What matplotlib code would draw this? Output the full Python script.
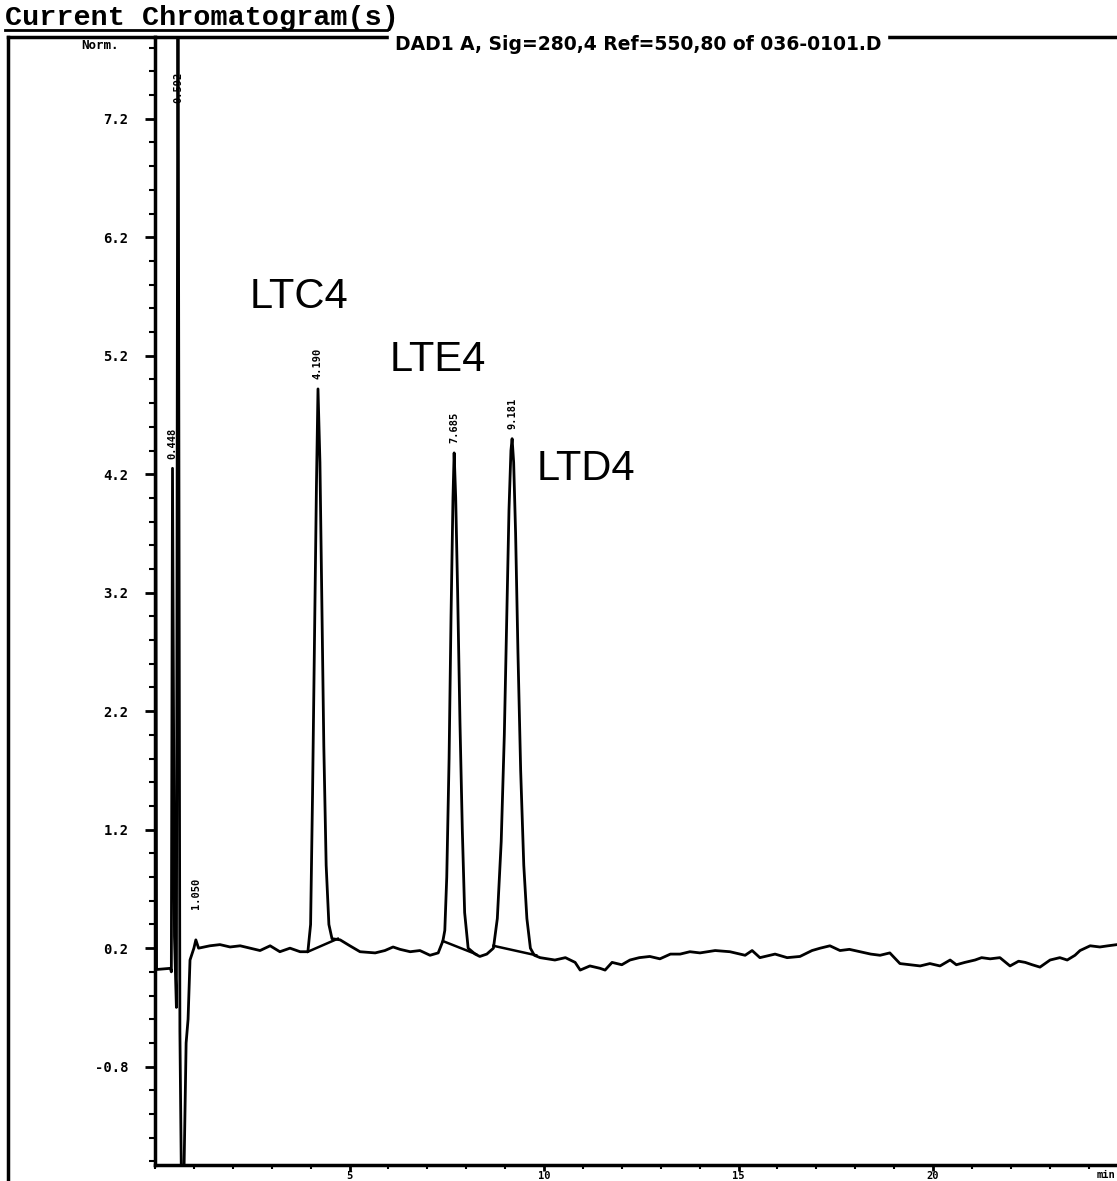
import matplotlib
matplotlib.use("Agg")
import matplotlib.pyplot as plt
from matplotlib.lines import Line2D
from matplotlib.ticker import FixedLocator, MultipleLocator

# trace: retention time (min) and signal (norm.)
trace_t = [0.00, 0.04, 0.40, 0.42, 0.45, 0.50, 0.55, 0.59, 0.64, 0.68, 0.74,
           0.80, 0.85, 0.90, 0.95, 1.00, 1.05, 1.12,
           1.41, 1.67, 1.93, 2.19, 2.44, 2.70, 2.96, 3.21, 3.47, 3.73, 3.93,
           4.00, 4.05, 4.10, 4.15, 4.19, 4.24, 4.29, 4.34, 4.40, 4.47, 4.55,
           4.76, 5.01, 5.27, 5.66, 5.91, 6.12, 6.30, 6.56, 6.81, 7.07, 7.28, 7.40,
           7.45, 7.50, 7.56, 7.61, 7.66, 7.69, 7.73, 7.78, 7.84, 7.90, 7.96, 8.05,
           8.23, 8.35, 8.53, 8.70, 8.80, 8.90, 8.98, 9.05, 9.10, 9.15, 9.18,
           9.22, 9.27, 9.33, 9.40, 9.48, 9.56, 9.65, 9.75,
           9.90, 10.28, 10.55, 10.80, 10.93, 11.18, 11.44, 11.57, 11.75, 12.00,
           12.21, 12.45, 12.72, 12.98, 13.25, 13.50, 13.75, 14.01, 14.40, 14.78,
           15.17, 15.35, 15.55, 15.94, 16.25, 16.58, 16.89, 17.10, 17.35, 17.61,
           17.85, 18.12, 18.40, 18.64, 18.89, 19.15, 19.40, 19.67, 19.92, 20.18,
           20.44, 20.60, 20.82, 21.08, 21.25, 21.47, 21.72, 21.98, 22.20, 22.37,
           22.55, 22.75, 23.01, 23.26, 23.45, 23.65, 23.78, 24.04, 24.29, 24.50,
           24.73]
trace_v = [8.50, 0.02, 0.03, 0.00, 4.25, 0.30, -0.30, 9.00, -0.50, -1.80, -1.80,
           -0.60, -0.40, 0.10, 0.15, 0.20, 0.27, 0.20,
           0.22, 0.23, 0.21, 0.22, 0.20, 0.18, 0.22, 0.17, 0.20, 0.17, 0.17,
           0.40, 1.50, 2.80, 4.10, 4.92, 4.30, 3.10, 1.90, 0.90, 0.40, 0.28,
           0.27, 0.22, 0.17, 0.16, 0.18, 0.21, 0.19, 0.17, 0.18, 0.14, 0.16, 0.26,
           0.35, 0.80, 1.80, 3.00, 4.00, 4.38, 4.00, 3.20, 2.10, 1.20, 0.50, 0.20,
           0.15, 0.13, 0.15, 0.20, 0.45, 1.10, 2.00, 3.10, 3.90, 4.40, 4.50,
           4.30, 3.70, 2.70, 1.70, 0.90, 0.45, 0.20, 0.14,
           0.12, 0.10, 0.12, 0.08, 0.015, 0.05, 0.03, 0.015, 0.08, 0.06,
           0.10, 0.12, 0.13, 0.11, 0.15, 0.15, 0.17, 0.16, 0.18, 0.17,
           0.14, 0.18, 0.12, 0.15, 0.12, 0.13, 0.18, 0.20, 0.22, 0.18,
           0.19, 0.17, 0.15, 0.14, 0.16, 0.07, 0.06, 0.05, 0.07, 0.05,
           0.10, 0.06, 0.08, 0.10, 0.12, 0.11, 0.12, 0.05, 0.09, 0.08,
           0.06, 0.04, 0.10, 0.12, 0.10, 0.14, 0.18, 0.22, 0.21, 0.22,
           0.23]

# integration baselines drawn under the named peaks
base_segments = [((3.93, 4.70), (0.17, 0.28)),
                 ((7.40, 8.25), (0.26, 0.15)),
                 ((8.70, 9.80), (0.22, 0.14))]

# retention-time labels over the peaks
rt_times = [0.45, 0.59, 1.05, 4.19, 7.69, 9.18]
rt_tops = [4.25, 7.25, 0.45, 4.92, 4.38, 4.50]
rt_labels = ["0.448", "0.592", "1.050", "4.190", "7.685", "9.181"]

compound_names = ["LTC4", "LTE4", "LTD4"]
compound_pos = [(2.44, 5.60), (6.04, 5.07), (9.82, 4.15)]

y_major = [-0.8, 0.2, 1.2, 2.2, 3.2, 4.2, 5.2, 6.2, 7.2]
x_major = [5, 10, 15, 20]

W, H = 1117, 1181
fig = plt.figure(figsize=(W / 100, H / 100), dpi=100)
ax = fig.add_axes([155 / W, 1 - 1165 / H, (W - 155) / W, (1165 - 37) / H])

ax.plot(trace_t, trace_v, color="black", lw=2.0)
for xs, ys in base_segments:
    ax.plot(xs, ys, color="black", lw=1.8)

ax.set_xlim(0, 24.73)
ax.set_ylim(-1.63, 7.89)

mono = "DejaVu Sans Mono"
for t, top, lab in zip(rt_times, rt_tops, rt_labels):
    ax.text(t, top + 0.08, lab, rotation=90, ha="center", va="bottom",
            fontsize=7.5, fontweight="bold", family=mono)

for name, (x, y) in zip(compound_names, compound_pos):
    ax.text(x, y, name, fontsize=30, family="Liberation Sans", ha="left", va="baseline")

for side in ["top", "left", "bottom"]:
    ax.spines[side].set_linewidth(2.5)
ax.spines["right"].set_visible(False)

ax.yaxis.set_major_locator(FixedLocator(y_major))
ax.yaxis.set_minor_locator(MultipleLocator(0.2))
ax.set_yticklabels(["%.1f" % v for v in y_major])
ax.xaxis.set_major_locator(FixedLocator(x_major))
ax.xaxis.set_minor_locator(MultipleLocator(1))
ax.set_xticklabels([str(v) for v in x_major])
ax.tick_params(axis="y", which="major", direction="out", length=7, width=2, pad=12)
ax.tick_params(axis="y", which="minor", direction="out", length=4, width=1.5)
ax.tick_params(axis="x", which="major", direction="out", length=4, width=2, pad=0)
ax.tick_params(axis="x", which="minor", direction="out", length=3, width=1.5)
for lab in ax.get_yticklabels():
    lab.set_family(mono)
    lab.set_fontweight("bold")
    lab.set_fontsize(10)
for lab in ax.get_xticklabels():
    lab.set_family(mono)
    lab.set_fontweight("bold")
    lab.set_fontsize(7.5)
ax.text(24.45, -0.004, "min", transform=ax.get_xaxis_transform(), ha="center",
        va="top", fontsize=7.5, fontweight="bold", family=mono, clip_on=False)

# outer frame, header and title of the printout
fig.add_artist(Line2D([8 / W, 8 / W], [0, 1 - 37 / H], color="black", lw=2.5))
fig.add_artist(Line2D([8 / W, 155 / W], [1 - 37 / H, 1 - 37 / H], color="black", lw=2.5))
fig.text(100 / W, 1 - 39 / H, "Norm.", ha="center", va="top", fontsize=9,
         fontweight="bold", family=mono)
fig.text(638 / W, 1 - 35 / H, "DAD1 A, Sig=280,4 Ref=550,80 of 036-0101.D",
         ha="center", va="top", fontsize=13.5, fontweight="bold", family="DejaVu Sans",
         backgroundcolor="white")
fig.text(5 / W, 1 - 25 / H, "Current Chromatogram(s)", ha="left", va="baseline",
         fontsize=20.5, fontweight="bold", family="Liberation Mono")
fig.add_artist(Line2D([5 / W, 395 / W], [1 - 30 / H, 1 - 30 / H], color="black", lw=2))

fig.savefig("out.png", dpi=100, facecolor="white")
